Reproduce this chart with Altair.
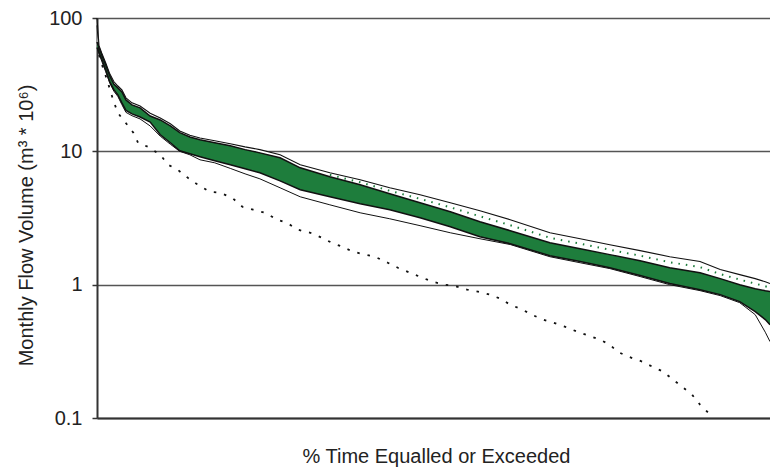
import altair as alt
import pandas as pd

# Percentage of time a monthly flow volume is equalled or exceeded
pct = [0.0, 0.3, 0.7, 1.3, 1.9, 2.5, 3.1, 3.7, 4.3, 5.2, 6.4, 7.9, 9.4, 10.9,
       12.3, 13.8, 15.3, 17.5, 19.8, 22.0, 24.2, 27.2, 30.2, 34.6, 39.1, 43.5,
       48.0, 52.5, 56.9, 61.4, 67.3, 71.8, 76.2, 80.7, 85.1, 89.6, 92.6, 95.5,
       97.8, 99.3, 100.0]

# Upper and lower limits of the shaded (green) range, m3 * 10^6
green_top = [66, 60, 52.8, 44.5, 36.8, 32.0, 29.9, 27.9, 24.3, 22.3, 21.2, 18.4,
             17.2, 15.5, 13.8, 12.8, 12.2, 11.6, 11.0, 10.3, 9.74, 8.94, 7.52,
             6.44, 5.61, 4.81, 4.11, 3.52, 2.96, 2.54, 2.06, 1.86, 1.68, 1.51,
             1.34, 1.23, 1.11, 1.00, 0.933, 0.90, 0.887]
green_bot = [60, 55, 49.3, 40.8, 33.2, 29.0, 26.5, 23.1, 20.3, 19.1, 18.1, 16.6,
             13.3, 11.6, 10.1, 9.58, 9.10, 8.49, 7.92, 7.39, 6.90, 6.00, 5.15,
             4.56, 4.04, 3.65, 3.18, 2.72, 2.29, 2.03, 1.65, 1.49, 1.34, 1.17,
             1.02, 0.917, 0.842, 0.746, 0.628, 0.547, 0.501]

# Upper limit of the stippled range (sits on top of the green range)
stip_top = [100, 62, 54.7, 46.0, 38.1, 33.4, 30.9, 28.9, 25.2, 23.1, 21.9, 19.3,
            17.8, 16.1, 14.2, 13.2, 12.6, 12.0, 11.4, 10.8, 10.3, 9.42, 7.92,
            6.90, 6.12, 5.33, 4.72, 4.11, 3.58, 3.07, 2.45, 2.21, 1.99, 1.80,
            1.62, 1.49, 1.30, 1.19, 1.11, 1.05, 1.02]

# Thin solid duration curve
thin = [88, 54, 47.5, 39.5, 32.5, 28.3, 25.8, 22.4, 19.6, 18.5, 17.5, 15.5, 13.0,
        11.3, 10.0, 9.42, 8.64, 8.20, 7.45, 6.78, 6.22, 5.33, 4.56, 3.97, 3.46,
        3.12, 2.77, 2.45, 2.21, 2.00, 1.62, 1.46, 1.32, 1.15, 1.00, 0.902, 0.828,
        0.733, 0.596, 0.44, 0.374]

# Dotted duration curve
dot_pct = [0.3, 0.9, 1.5, 2.4, 3.1, 4.5, 5.4, 6.1, 7.6, 9.4, 10.6, 12.0, 13.5,
           15.0, 16.8, 18.3, 20.1, 21.6, 23.2, 25.0, 26.8, 28.2, 29.9, 31.7,
           33.4, 34.9, 36.4, 38.0, 39.8, 41.3, 43.2, 44.7, 46.5, 48.3, 49.9,
           51.7, 53.5, 55.0, 56.6, 58.4, 59.9, 61.4, 63.2, 64.6, 66.3, 67.8,
           69.5, 71.3, 73.0, 74.7, 76.2, 77.3, 78.9, 81.0, 82.5, 84.1, 85.6,
           86.9, 88.4, 89.6, 90.8, 91.2]
dot_val = [52.8, 42.2, 34.3, 24.3, 19.4, 15.8, 13.8, 11.6, 10.8, 9.42, 7.92, 7.27,
           6.33, 5.61, 4.97, 4.89, 4.48, 3.84, 3.65, 3.46, 3.07, 2.91, 2.58, 2.45,
           2.25, 2.06, 1.93, 1.77, 1.68, 1.62, 1.46, 1.34, 1.23, 1.13, 1.05, 1.00,
           0.966, 0.917, 0.886, 0.842, 0.785, 0.708, 0.650, 0.596, 0.547, 0.519,
           0.484, 0.445, 0.415, 0.387, 0.355, 0.315, 0.289, 0.265, 0.243, 0.223,
           0.194, 0.172, 0.150, 0.126, 0.110, 0.100]

band = pd.DataFrame({"pct": pct, "green_top": green_top, "green_bot": green_bot,
                     "stip_top": stip_top, "thin": thin})
dotted = pd.DataFrame({"pct": dot_pct, "flow": dot_val})

FONT = "Liberation Sans"
GREEN = "#1e7d3c"
INK = "#111111"

x_enc = alt.X(
    "pct:Q",
    scale=alt.Scale(domain=[0, 100], nice=False, zero=False),
    axis=alt.Axis(
        title="% Time Equalled or Exceeded",
        labels=False, ticks=False, grid=False,
        domainColor="#333333", domainWidth=2,
        titleFontSize=20, titleFontWeight="normal",
        titleX=339, titleY=44, titleBaseline="alphabetic",
        titleAlign="center",
    ),
)

y_scale = alt.Scale(type="log", domain=[0.1, 100], nice=False)
y_axis = alt.Axis(
    title="Monthly Flow Volume (m³ * 10⁶)",
    values=[0.1, 1, 10, 100], format="~g",
    grid=True, gridColor="#555555", gridWidth=1.3,
    domainColor="#333333", domainWidth=2,
    tickColor="#333333", tickSize=5, tickWidth=1.5,
    labelFontSize=20, labelPadding=10,
    titleFontSize=20, titleFontWeight="normal",
    titleX=-65, titleY=207, titleBaseline="alphabetic", titleAlign="center",
    titleAngle=270,
)


def y_of(field):
    return alt.Y(field, type="quantitative", scale=y_scale, axis=y_axis)


base = alt.Chart(band)

# Green range
green_area = base.mark_area(color=GREEN, opacity=1).encode(
    x=x_enc, y=y_of("green_top"), y2=alt.Y2("green_bot")
)

# Stippled range: white band with a row of green dots
stip_area = base.mark_area(color="white", opacity=1).encode(
    x=x_enc, y=y_of("stip_top"), y2=alt.Y2("green_top")
)
stip_dots = base.transform_filter("datum.pct >= 32").transform_calculate(
    mid="sqrt(datum.stip_top * datum.green_top)"
).mark_line(color=GREEN, strokeWidth=2, strokeDash=[1.5, 6]).encode(
    x=x_enc, y=y_of("mid")
)

edge_top = base.mark_line(color=INK, strokeWidth=1.5).encode(x=x_enc, y=y_of("green_top"))
edge_bot = base.mark_line(color=INK, strokeWidth=1.5).encode(x=x_enc, y=y_of("green_bot"))
stip_line = base.mark_line(color=INK, strokeWidth=1.1).encode(x=x_enc, y=y_of("stip_top"))
thin_line = base.mark_line(color=INK, strokeWidth=1).encode(x=x_enc, y=y_of("thin"))

dot_line = alt.Chart(dotted).mark_line(
    color=INK, strokeWidth=1.8, strokeDash=[2.5, 8]
).encode(x=x_enc, y=y_of("flow"))

chart = alt.layer(
    stip_area, green_area, stip_dots, thin_line, dot_line,
    stip_line, edge_top, edge_bot,
).properties(
    width=673, height=400,
    autosize=alt.AutoSizeParams(type="none"),
    padding={"left": 97, "top": 18, "right": 0, "bottom": 53},
).configure_axis(
    labelFont=FONT, titleFont=FONT, labelColor="#222222", titleColor="#222222"
).configure_view(
    strokeWidth=0
)

chart.save("out.html", embed_options={"renderer": "svg", "actions": False})
